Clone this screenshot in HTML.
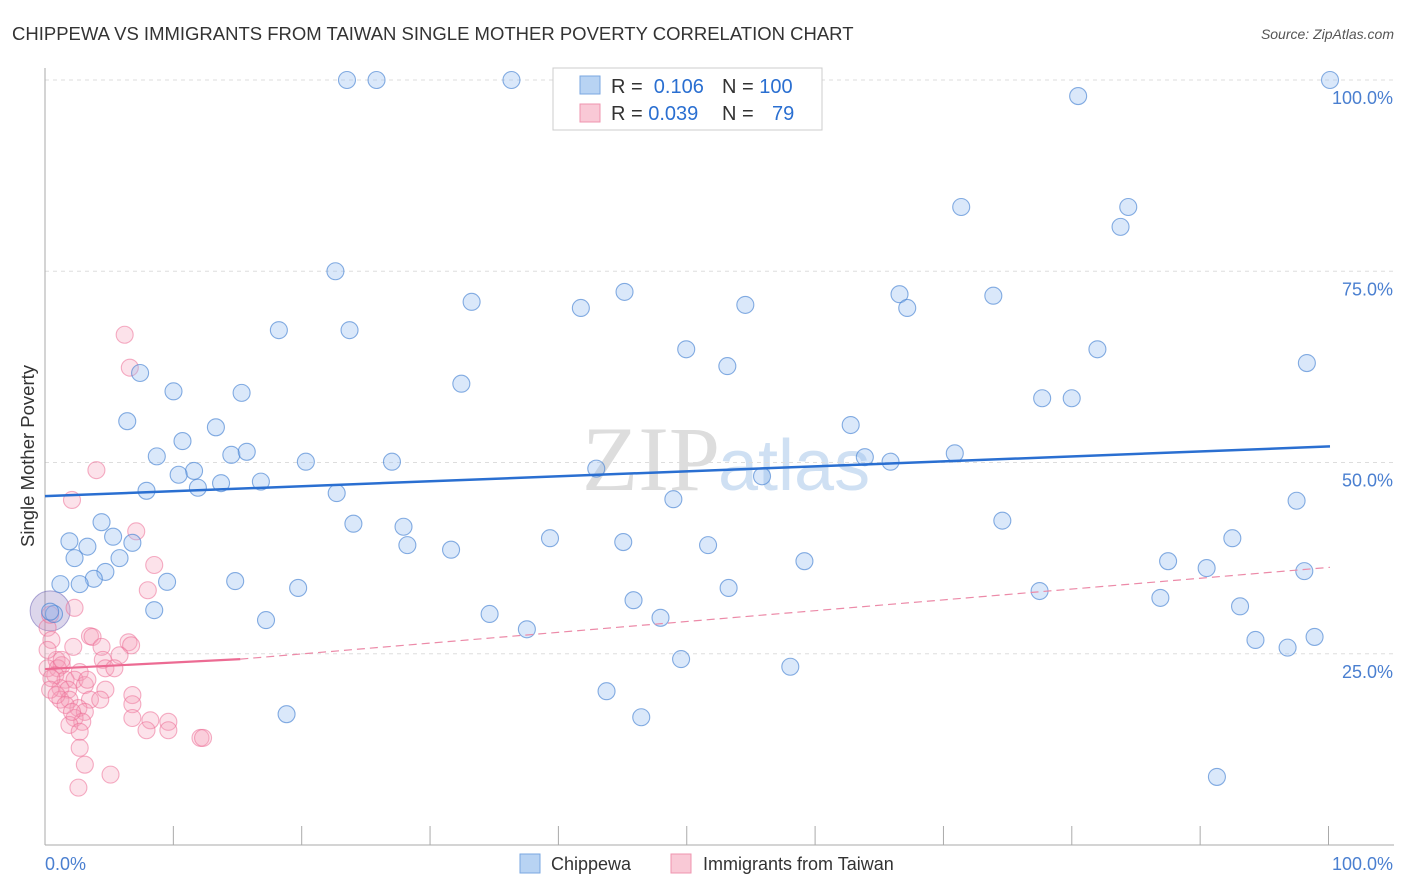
<!DOCTYPE html>
<html><head><meta charset="utf-8"><style>
body{margin:0;background:#fff;font-family:"Liberation Sans",sans-serif}
svg{display:block}
</style></head><body>
<svg id="chart" width="1406" height="892">
<text x="12" y="40" font-size="18.5" fill="#333">CHIPPEWA VS IMMIGRANTS FROM TAIWAN SINGLE MOTHER POVERTY CORRELATION CHART</text>
<text x="1394" y="39" font-size="14" fill="#555" font-style="italic" text-anchor="end">Source: ZipAtlas.com</text>
<text x="720" y="490" font-size="92" fill="#ddd" font-family="Liberation Serif,serif" text-anchor="end">ZIP</text>
<text x="718" y="490" font-size="72" fill="#cfe0f3">atlas</text>
<text transform="translate(34,456) rotate(-90)" font-size="18.5" fill="#333" text-anchor="middle">Single Mother Poverty</text>
<g id="grid"></g><g id="pts"></g><g id="lines"></g>
<g>
<rect x="553" y="68" width="269" height="62" fill="#fff" stroke="#ccc"/>
<rect x="580" y="76" width="20" height="18" fill="#b8d3f3" stroke="#7aa7e0"/>
<rect x="580" y="104" width="20" height="18" fill="#f9c9d6" stroke="#ef94af"/>
<text x="611" y="93" font-size="20" fill="#333">R = <tspan fill="#2a6fd1">&#160;0.106</tspan><tspan x="722">N = </tspan><tspan fill="#2a6fd1">100</tspan></text>
<text x="611" y="120" font-size="20" fill="#333">R = <tspan fill="#2a6fd1">0.039</tspan><tspan x="722">N = </tspan><tspan fill="#2a6fd1" x="772">79</tspan></text>
</g>
<g>
<rect x="520" y="854" width="20" height="19" fill="#b8d3f3" stroke="#7aa7e0"/>
<text x="551" y="870" font-size="18" fill="#333">Chippewa</text>
<rect x="671" y="854" width="20" height="19" fill="#f9c9d6" stroke="#ef94af"/>
<text x="703" y="870" font-size="18" fill="#333">Immigrants from Taiwan</text>
</g>
</svg>
<script>
const yTicks=[25,50,75,100];
const yTickLabels=["25.0%","50.0%","75.0%","100.0%"];
const xTickLabels=["0.0%","100.0%"];
const blueTrend=[45.6,52.1];
const pinkTrend=[23.0,24.3,36.3];
const bluePx=[[347,80],[377,80],[511,80],[1330,80],[1078,96],[961,207],[1128,207],[1121,227],[335,271],[471,302],[581,308],[625,292],[745,305],[900,294],[907,308],[993,296],[279,330],[349,330],[686,349],[727,366],[1097,349],[1307,363],[140,373],[461,384],[173,391],[241,393],[127,421],[216,427],[851,425],[1042,398],[1072,398],[182,441],[157,456],[231,455],[247,452],[306,462],[392,462],[194,471],[179,475],[221,483],[198,488],[261,482],[147,491],[337,493],[596,469],[762,476],[865,457],[890,462],[955,453],[674,499],[1297,501],[102,522],[354,524],[404,527],[1002,521],[69,541],[113,537],[87,547],[133,543],[407,545],[451,550],[550,538],[623,542],[708,545],[1232,538],[75,558],[120,558],[106,572],[94,579],[61,584],[80,584],[167,582],[235,581],[804,561],[1168,561],[1206,568],[1304,571],[298,588],[729,588],[1039,591],[154,610],[489,614],[633,600],[1160,598],[1240,606],[54,614],[266,620],[661,618],[527,629],[1256,640],[1315,637],[1288,648],[681,659],[790,667],[607,691],[287,714],[641,717],[1217,777],[50,612]];
const pinkPx=[[125,335],[130,368],[97,470],[72,500],[136,531],[154,565],[148,590],[75,608],[48,628],[50,615],[52,640],[90,636],[93,637],[73,647],[102,647],[129,642],[131,645],[120,655],[103,660],[56,660],[62,665],[48,668],[58,668],[80,672],[105,668],[115,668],[55,675],[65,680],[75,680],[85,685],[60,688],[68,690],[105,690],[133,695],[90,700],[60,700],[70,700],[78,708],[132,704],[85,712],[75,718],[132,718],[150,720],[168,722],[82,722],[70,725],[147,730],[168,730],[80,732],[200,738],[203,738],[80,748],[85,765],[110,775],[78,788],[52,678],[50,690],[57,695],[65,705],[72,712],[62,660],[48,650],[100,700],[88,680]];
const toData=p=>[+((p[0]-45)/12.85).toFixed(1),+((845-p[1])/7.65).toFixed(1)];
const chippewaX=bluePx.map(p=>toData(p)[0]), chippewaY=bluePx.map(p=>toData(p)[1]);
const taiwanX=pinkPx.map(p=>toData(p)[0]), taiwanY=pinkPx.map(p=>toData(p)[1]);
const X=v=>45+v*12.85, Y=v=>845-v*7.65;
const NS="http://www.w3.org/2000/svg";
function mk(tag,attrs,parent){const e=document.createElementNS(NS,tag);for(const k in attrs)e.setAttribute(k,attrs[k]);parent.appendChild(e);return e;}
const grid=document.getElementById('grid'),pts=document.getElementById('pts'),lines=document.getElementById('lines');
yTicks.forEach((t,i)=>{
 const g=mk('line',{x1:45,x2:1394,y1:Y(t),y2:Y(t),stroke:'#ddd','stroke-dasharray':'4,4'},grid);
 
 
 const l=mk('text',{x:1393,y:Y(t)+24,'font-size':18,fill:'#4a7fd0','text-anchor':'end'},grid);
 l.textContent=yTickLabels[i];
 
 
});
const ax=mk('line',{x1:45,x2:45,y1:68,y2:845,stroke:'#aaa'},grid);


const bx=mk('line',{x1:45,x2:1394,y1:845,y2:845,stroke:'#aaa'},grid);


for(let i=1;i<=10;i++){const t=mk('line',{x1:X(i*10)-i*0.15,x2:X(i*10)-i*0.15,y1:826,y2:845,stroke:'#aaa'},grid);
 
 }
[[0,'start',45],[100,'end',1393]].forEach((d,i)=>{const t=mk('text',{x:d[2],y:870,'font-size':18,fill:'#4a7fd0','text-anchor':d[1]},grid);t.textContent=xTickLabels[i];
 
 });
const big=mk('circle',{cx:X(0.4),cy:Y(30.6),r:20,fill:'rgba(140,120,190,0.3)',stroke:'rgba(110,100,180,0.55)'},pts);


taiwanX.forEach((x,i)=>{const c=mk('circle',{cx:X(x),cy:Y(taiwanY[i]),r:8.5,fill:'rgba(245,160,185,0.3)',stroke:'rgba(236,110,150,0.55)','stroke-width':1.1},pts);
 
 });
chippewaX.forEach((x,i)=>{const c=mk('circle',{cx:X(x),cy:Y(chippewaY[i]),r:8.5,fill:'rgba(150,190,240,0.35)',stroke:'rgba(70,130,210,0.65)','stroke-width':1.1},pts);
 
 });
const bt=mk('line',{x1:X(0),y1:Y(blueTrend[0]),x2:X(100),y2:Y(blueTrend[1]),stroke:'#2a6fd1','stroke-width':2.5},lines);


const pt=mk('line',{x1:X(0),y1:Y(pinkTrend[0]),x2:X(15.2),y2:Y(pinkTrend[1]),stroke:'#ec6b93','stroke-width':2.2},lines);


const pd=mk('line',{x1:X(15.2),y1:Y(pinkTrend[1]),x2:X(100),y2:Y(pinkTrend[2]),stroke:'#ec8aa8','stroke-width':1.2,'stroke-dasharray':'8,5'},lines);


</script>
</body></html>
